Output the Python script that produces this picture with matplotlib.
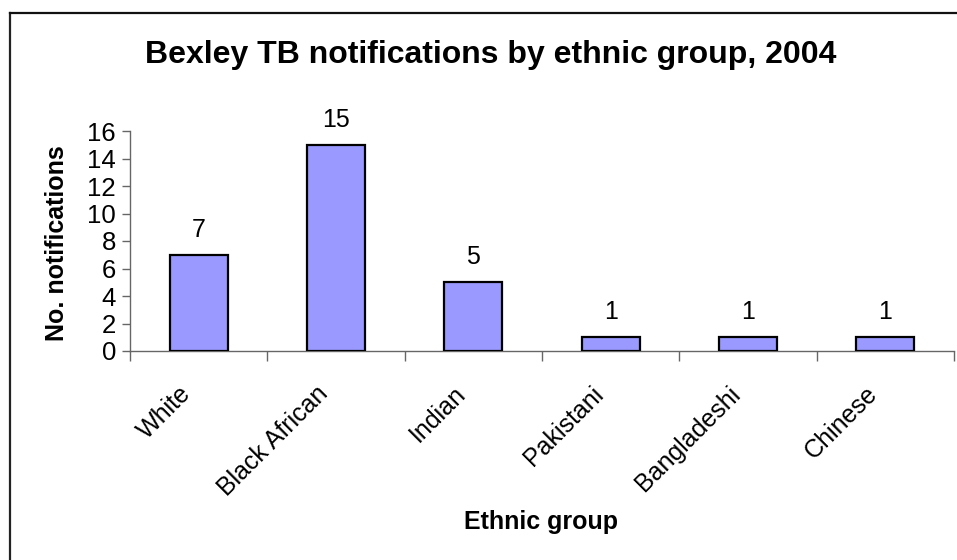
import numpy as np
import matplotlib
matplotlib.use("Agg")
import matplotlib.pyplot as plt
from matplotlib.lines import Line2D
from matplotlib.transforms import ScaledTranslation

# Datos de notificaciones por grupo étnico
grupos = ["White", "Black African", "Indian", "Pakistani", "Bangladeshi", "Chinese"]
notificaciones = [7, 15, 5, 1, 1, 1]
y_ticks = [0, 2, 4, 6, 8, 10, 12, 14, 16]

plt.rcParams["font.family"] = ["Liberation Sans", "DejaVu Sans"]

W, H = 957, 560
fig = plt.figure(figsize=(W / 100, H / 100), dpi=100)
fig.patch.set_facecolor("white")

# Marco exterior (solo lados superior e izquierdo visibles)
fig.add_artist(Line2D([10 / W, 10 / W], [0, 1 - 13 / H], transform=fig.transFigure,
                      color="#222222", lw=1.6))
fig.add_artist(Line2D([10 / W, 1.0], [1 - 13 / H, 1 - 13 / H], transform=fig.transFigure,
                      color="#111111", lw=1.6))

ax = fig.add_axes([130 / W, 209 / H, (954 - 130) / W, (351 - 131) / H])

x = np.arange(len(grupos))
ax.bar(x, notificaciones, width=0.42, color="#9999FF", edgecolor="black", linewidth=1.6,
       zorder=3)

for xi, v in zip(x, notificaciones):
    ax.annotate(str(v), (xi, v), xytext=(0, 9.5), textcoords="offset points",
                ha="center", va="bottom", fontsize=18)

ax.set_xlim(-0.5, len(grupos) - 0.5)
ax.set_ylim(0, 16)
ax.set_yticks(y_ticks)
ax.tick_params(axis="y", labelsize=18.5, length=6, width=1, color="#666666", pad=4)

# Marcas del eje x entre categorías, etiquetas en el centro
ax.set_xticks(x)
ax.set_xticklabels(grupos, rotation=45, ha="right", va="top", rotation_mode="anchor",
                   fontsize=18)
ax.set_xticks(np.arange(len(grupos) + 1) - 0.5, minor=True)
ax.tick_params(axis="x", which="major", length=0, pad=22)
ax.tick_params(axis="x", which="minor", length=7, width=1, color="#666666")
offset = ScaledTranslation(-0.2, 0, fig.dpi_scale_trans)
for lab in ax.get_xticklabels():
    lab.set_transform(lab.get_transform() + offset)

for s in ["top", "right"]:
    ax.spines[s].set_visible(False)
for s in ["left", "bottom"]:
    ax.spines[s].set_color("#666666")
    ax.spines[s].set_linewidth(1)

fig.text(491 / W, 1 - 55 / H, "Bexley TB notifications by ethnic group, 2004",
         ha="center", va="center", fontsize=23, fontweight="bold")
fig.text(57 / W, 1 - 243 / H, "No. notifications", rotation=90,
         ha="center", va="center", fontsize=18, fontweight="bold")
fig.text(541 / W, 1 - 522 / H, "Ethnic group", ha="center", va="center",
         fontsize=18, fontweight="bold")

fig.savefig("out.png", dpi=100)
